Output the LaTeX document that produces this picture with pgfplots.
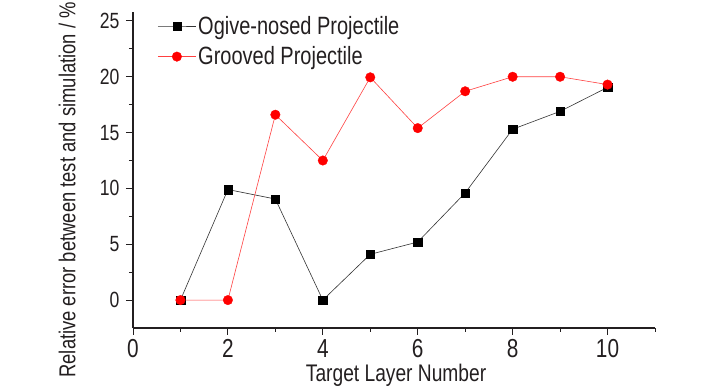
\documentclass[border=0pt]{standalone}
\usepackage{pgfplots}
\pgfplotsset{compat=1.18}
\usepackage{fontspec}
\setmainfont{Liberation Sans}[FakeStretch=0.8]
\definecolor{txt}{HTML}{231F20}
\begin{document}
\begin{tikzpicture}
\useasboundingbox (-133pt,-62pt) rectangle (595pt,328pt);
\begin{axis}[
  scale only axis,
  width=522pt, height=316pt,
  xmin=0, xmax=11, ymin=-2.5, ymax=25.8,
  axis x line=bottom, axis y line=left,
  axis line style={-, line width=1.1pt, color=txt},
  tick align=outside,
  xtick={0,2,4,6,8,10}, ytick={0,5,10,15,20,25},
  minor xtick={1,3,5,7,9,11},
  minor ytick={2.5,7.5,12.5,17.5,22.5},
  major tick length=7pt, minor tick length=4pt,
  tick style={line width=0.9pt, color=txt},
  /pgf/number format/assume math mode=true,
  xticklabel style={font=\fontsize{26}{28}\selectfont, text=txt, yshift=-1pt},
  yticklabel style={font=\fontsize{22}{26}\selectfont, text=txt, xshift=-3pt},
  xlabel={Target Layer Number},
  ylabel={Relative error between test and simulation / \%},
  xlabel style={font=\fontsize{24}{27}\selectfont, text=txt,
    at={(axis description cs:0.504,-0.149)}, anchor=center},
  ylabel style={font=\fontsize{23}{26}\selectfont, text=txt,
    at={(axis description cs:-0.103,0.437)}, anchor=south, rotate=0},
  legend style={at={(0.041,1.0)}, anchor=north west, draw=none, fill=none,
    font=\fontsize{25}{30}\selectfont, text=txt, row sep=7pt,
    /tikz/every even column/.append style={column sep=3pt}},
  legend cell align=left,
  legend image code/.code={%
    \draw[mark repeat=2,mark phase=2] plot coordinates {(0pt,0pt) (19pt,0pt) (38pt,0pt)};},
  clip=false,
]
\addplot[black!80, line width=0.6pt, mark=square*, mark size=4.2pt,
  mark options={fill=black, draw=black, line width=0.3pt}]
  coordinates {(1,0) (2,9.9) (3,9.05) (4,0) (5,4.1) (6,5.2) (7,9.6) (8,15.3) (9,16.9) (10,19.05)};
\addlegendentry{Ogive-nosed Projectile}
\addplot[red!75!white, line width=0.6pt, mark=*, mark size=4.8pt,
  mark options={fill=red, draw=red, line width=0.3pt}]
  coordinates {(1,0) (2,0) (3,16.6) (4,12.5) (5,19.95) (6,15.4) (7,18.7) (8,20) (9,20) (10,19.3)};
\addlegendentry{Grooved Projectile}
\end{axis}
\end{tikzpicture}
\end{document}
